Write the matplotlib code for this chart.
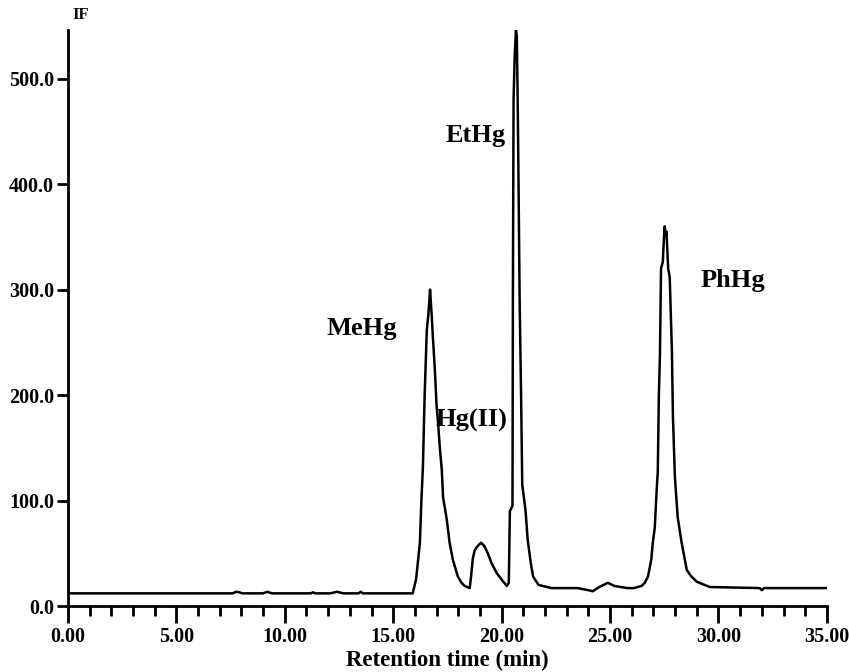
import matplotlib.pyplot as plt

# chromatogram trace (min, intensity)
rt = [0.0, 7.6, 7.75, 7.9, 8.05, 9.0, 9.2, 9.4, 11.2, 11.3, 11.4, 12.1, 12.4,
      12.7, 13.4, 13.5, 13.6, 15.9, 16.05, 16.1, 16.23, 16.3, 16.37, 16.45,
      16.55, 16.62, 16.7, 16.73, 16.78, 16.83, 16.92, 17.0, 17.06, 17.15,
      17.24, 17.3, 17.47, 17.6, 17.75, 17.98, 18.15, 18.3, 18.53, 18.6, 18.67,
      18.76, 18.9, 19.05, 19.2, 19.36, 19.55, 19.78, 20.0, 20.24, 20.33, 20.38,
      20.5, 20.52, 20.55, 20.6, 20.66, 20.7, 20.74, 20.78, 20.83, 20.9, 20.95,
      21.1, 21.2, 21.35, 21.45, 21.7, 22.3, 23.5, 24.0, 24.2, 24.5, 24.9,
      25.2, 25.5, 25.8, 26.1, 26.45, 26.6, 26.75, 26.9, 26.97, 27.06, 27.15,
      27.2, 27.25, 27.3, 27.35, 27.43, 27.5, 27.52, 27.57, 27.6, 27.68, 27.75,
      27.85, 27.9, 27.99, 28.12, 28.3, 28.54, 28.75, 29.0, 29.6, 31.9, 32.0,
      32.1, 35.0]
signal = [12, 12, 13.5, 13, 12, 12, 13.5, 12, 12, 13, 12, 12, 13.5,
          12, 12, 13.5, 12, 12, 25, 34, 60, 100, 132, 200,
          262, 276, 300, 290, 274, 255, 224, 190, 176, 150,
          129, 103, 82, 60, 44, 28, 22, 19, 17, 30, 45,
          53, 57, 60, 57, 50, 40, 31, 25, 19, 22, 90,
          95, 300, 480, 520, 546, 540, 480, 400, 290, 195, 115,
          91, 63, 40, 28, 20, 17, 17, 15, 14, 18, 22,
          19, 18, 17, 17, 19, 22, 28, 44, 60, 74, 110,
          127, 200, 238, 320, 326, 355, 360, 350, 355, 320, 312,
          243, 179, 122, 84, 60, 34, 28, 23, 18, 17, 15,
          17, 17]

peak_names = ['MeHg', 'Hg(II)', 'EtHg', 'PhHg']
label_x = [13.55, 18.63, 18.8, 30.66]
label_y = [263, 176, 446, 309]

xticks = [0, 5, 10, 15, 20, 25, 30, 35]
yticks = [0, 100, 200, 300, 400, 500]

plt.rcParams['font.family'] = ['Liberation Serif', 'DejaVu Serif']
plt.rcParams['font.weight'] = 'bold'

fig = plt.figure(figsize=(8.49, 6.72), dpi=100)
ax = fig.add_axes([0.080, 0.0982, 0.894, 0.857])

ax.plot(rt, signal, color='black', linewidth=1.8)

for name, x, y in zip(peak_names, label_x, label_y):
    ax.text(x, y, name, fontsize=19, fontweight='bold', ha='center', va='center')

ax.text(0.2, 560, 'IF', fontsize=12, fontweight='bold', ha='left', va='center',
        clip_on=False)

ax.set_xlim(0, 35)
ax.set_ylim(0, 546)
ax.set_xticks(xticks)
ax.set_xticklabels([f'{t:.2f}' for t in xticks])
ax.set_xticks(range(0, 36), minor=True)
ax.set_yticks(yticks)
ax.set_yticklabels([f'{t:.1f}' for t in yticks])

ax.spines['top'].set_visible(False)
ax.spines['right'].set_visible(False)
ax.spines['left'].set_linewidth(2)
ax.spines['bottom'].set_linewidth(2)

ax.tick_params(axis='x', which='major', direction='out', length=12, width=2,
               labelsize=14.5, pad=3)
ax.tick_params(axis='x', which='minor', direction='out', length=7, width=2)
ax.tick_params(axis='y', which='major', direction='out', length=8, width=2,
               labelsize=14.5, pad=2)
for lbl in ax.get_xticklabels() + ax.get_yticklabels():
    lbl.set_fontweight('bold')

ax.set_xlabel('Retention time (min)', fontsize=16.5, fontweight='bold', labelpad=2)

plt.savefig('out.png', dpi=100)
